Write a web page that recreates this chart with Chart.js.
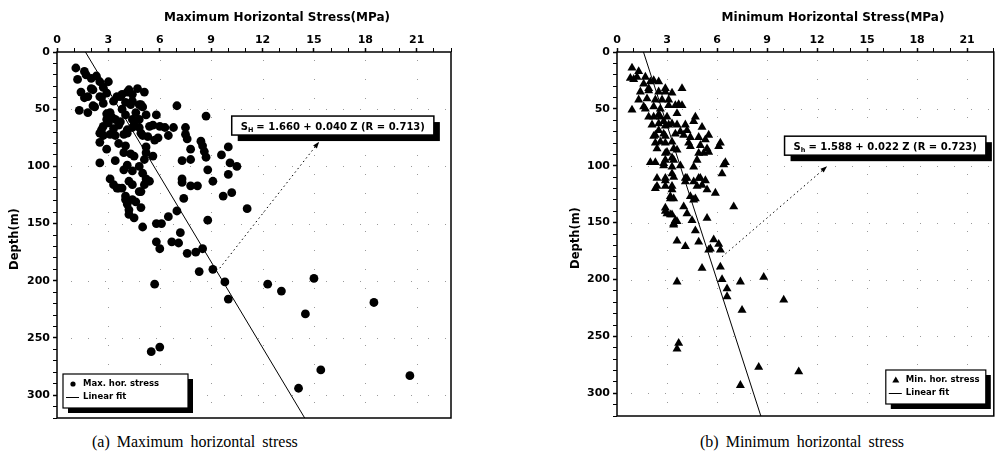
<!DOCTYPE html>
<html>
<head>
<meta charset="utf-8">
<script src="https://cdn.jsdelivr.net/npm/chart.js@4/dist/chart.umd.min.js"></script>
<style>
  body { margin: 0; background: #fff; width: 999px; height: 463px; overflow: hidden; position: relative; }
  canvas { position: absolute; top: 0; }
  #maxChart { left: 0; }
  #minChart { left: 560px; }
  .caption { position: absolute; top: 433px; font: 16px "Liberation Serif", "Times New Roman", serif; word-spacing: 3px; white-space: nowrap; }
</style>
</head>
<body>
<canvas id="maxChart" width="460" height="430"></canvas>
<canvas id="minChart" width="439" height="430"></canvas>
<div class="caption" style="left:92px">(a) Maximum horizontal stress</div>
<div class="caption" style="left:700px">(b) Minimum horizontal stress</div>

<script>
// (a) maximum horizontal stress (MPa) vs depth (m)
const maxStress = [1.1, 1.6, 1.7, 1.2, 2.0, 2.3, 2.5, 3.0, 2.1, 2.7, 1.4, 1.6, 1.8, 2.0, 2.5, 2.6, 2.9, 2.2, 2.1, 1.3,
  1.8, 2.7, 3.3, 3.5, 3.7, 3.8, 4.1, 4.2, 4.4, 4.7, 5.1, 4.0, 4.4, 4.3, 4.8, 4.9, 5.0, 3.1, 2.9, 3.4,
  2.9, 4.0, 4.4, 4.8, 5.2, 5.8, 2.7, 3.6, 4.1, 4.5, 5.4, 6.0, 2.5, 3.1, 3.9, 4.9, 5.3, 5.9, 2.7, 3.4,
  4.1, 4.4, 4.8, 3.0, 3.3, 3.7, 2.6, 3.2, 3.8, 4.6, 5.6, 6.3, 6.8, 6.5, 7.0, 7.5, 7.5, 7.6, 7.8, 7.8,
  7.3, 8.4, 8.5, 8.6, 8.7, 8.7, 8.8, 9.1, 9.6, 10.0, 10.1, 10.5, 10.0, 9.7, 10.2, 5.0, 5.7, 5.2, 5.2, 5.1,
  5.6, 2.5, 3.4, 4.1, 4.5, 3.9, 4.3, 2.9, 2.5, 3.6, 4.0, 3.1, 3.3, 3.6, 3.8, 4.2, 3.9, 4.4, 4.8, 5.0,
  5.2, 5.4, 7.3, 7.3, 7.8, 8.2, 4.0, 4.4, 4.9, 7.4, 3.5, 4.4, 4.8, 5.1, 4.0, 4.1, 4.6, 4.2, 4.2, 4.5,
  4.9, 5.0, 5.8, 6.1, 6.5, 7.0, 7.2, 11.1, 8.8, 5.8, 6.0, 6.7, 7.1, 7.6, 8.1, 8.5, 8.3, 9.1, 9.8, 10.0,
  5.7, 12.3, 13.1, 15.0, 14.5, 18.5, 5.5, 6.0, 15.4, 20.6, 14.1];
const maxDepth = [14, 17, 20, 24, 23, 21, 26, 26, 33, 31, 35, 40, 39, 32, 39, 40, 36, 48, 47, 51,
  53, 45, 43, 39, 39, 37, 35, 33, 37, 32, 35, 44, 43, 46, 46, 46, 48, 53, 54, 59,
  59, 55, 59, 59, 55, 55, 65, 64, 68, 64, 65, 65, 71, 72, 72, 71, 74, 75, 73, 73,
  71, 66, 66, 62, 67, 61, 68, 57, 50, 53, 64, 66, 66, 73, 47, 66, 72, 76, 85, 94,
  95, 78, 82, 87, 92, 56, 103, 113, 90, 83, 97, 100, 107, 126, 123, 73, 77, 83, 88, 94,
  91, 97, 95, 99, 91, 88, 89, 85, 79, 80, 82, 111, 116, 119, 119, 113, 103, 104, 100, 106,
  111, 113, 111, 114, 117, 117, 126, 129, 122, 128, 119, 116, 122, 116, 129, 133, 131, 138, 142, 145,
  136, 153, 150, 150, 144, 139, 158, 137, 147, 166, 172, 166, 167, 176, 175, 172, 192, 190, 201, 216,
  203, 203, 209, 198, 229, 219, 262, 258, 278, 283, 294];
const maxFitStress = [1.66, 14.46];
const maxFitDepth = [0, 320];

// (b) minimum horizontal stress (MPa) vs depth (m)
const minStress = [0.9, 1.3, 0.8, 1.2, 1.0, 1.7, 2.2, 1.6, 2.0, 2.5, 1.4, 1.9, 1.9, 2.5, 2.9, 3.3, 3.9, 2.9, 0.9, 1.3,
  1.8, 2.3, 2.7, 3.1, 1.7, 1.6, 2.2, 2.6, 3.1, 3.5, 3.9, 3.7, 1.9, 2.2, 2.5, 2.6, 3.0, 3.6, 2.8, 2.1,
  2.5, 2.9, 3.1, 3.3, 3.6, 4.1, 4.7, 4.6, 5.1, 2.5, 3.8, 4.2, 5.5, 5.3, 2.3, 2.8, 3.5, 4.0, 4.4, 4.9,
  2.2, 2.9, 2.6, 3.3, 4.3, 5.0, 4.4, 6.1, 6.2, 5.4, 4.9, 2.3, 2.9, 2.4, 2.9, 3.4, 5.2, 5.5, 3.0, 3.6,
  3.3, 2.9, 2.0, 2.3, 2.8, 2.8, 3.4, 3.3, 3.8, 4.6, 4.8, 6.4, 6.5, 6.3, 2.4, 2.9, 2.9, 3.4, 3.3, 4.1,
  4.2, 4.6, 5.0, 4.9, 5.3, 2.3, 2.4, 2.9, 3.3, 3.3, 4.8, 5.4, 5.1, 5.9, 3.2, 3.2, 4.4, 4.7, 4.1, 3.4,
  4.6, 7.0, 4.0, 2.9, 2.9, 4.2, 3.2, 3.0, 3.3, 4.5, 3.5, 3.4, 5.4, 3.6, 4.7, 3.4, 3.6, 4.1, 4.9, 5.6,
  5.8, 6.1, 6.2, 5.5, 5.1, 6.2, 3.6, 6.3, 7.4, 8.8, 6.6, 6.6, 10.0, 7.5, 3.7, 3.6, 8.5, 10.9, 7.4];
const minDepth = [14, 17, 23, 22, 24, 22, 25, 28, 26, 26, 35, 32, 34, 35, 35, 36, 32, 32, 51, 42,
  41, 42, 42, 42, 50, 48, 48, 50, 47, 47, 47, 46, 57, 57, 55, 57, 57, 54, 61, 64,
  63, 65, 64, 63, 64, 64, 57, 61, 66, 69, 70, 69, 73, 77, 73, 72, 72, 73, 75, 75,
  74, 74, 79, 79, 80, 82, 83, 83, 80, 85, 89, 80, 80, 85, 89, 85, 89, 88, 88, 86,
  93, 95, 97, 97, 98, 100, 95, 101, 100, 101, 95, 99, 97, 107, 111, 111, 113, 110, 107, 111,
  111, 114, 111, 111, 113, 120, 118, 118, 121, 118, 118, 121, 117, 124, 127, 129, 127, 129, 114, 129,
  130, 136, 136, 140, 137, 142, 143, 142, 143, 148, 148, 151, 146, 149, 157, 152, 166, 171, 167, 173,
  165, 169, 174, 174, 190, 189, 202, 200, 202, 198, 208, 215, 218, 227, 256, 261, 277, 281, 293];
const minFitStress = [1.588, 8.628];
const minFitDepth = [0, 320];

const xTicks = [0, 3, 6, 9, 12, 15, 18, 21];
const yTicks = [0, 50, 100, 150, 200, 250, 300];

const SANS = '"DejaVu Sans", Verdana, sans-serif';

function pairs(xs, ys) {
  return xs.map((x, i) => ({ x: x, y: ys[i] }));
}

// frame, sparse dotted grid, titles, equation box, arrow and legend
function decorPlugin(p) {
  return {
    id: 'decor',
    beforeDatasetsDraw(chart) {
      const { ctx, chartArea: a, scales: { x, y } } = chart;
      ctx.save();
      ctx.fillStyle = '#9a9a9a';
      xTicks.slice(1).forEach(v => {
        const px = Math.round(x.getPixelForValue(v));
        for (let py = a.top + 8; py < a.bottom; py += 19) ctx.fillRect(px, py, 1, 1);
      });
      yTicks.slice(1).forEach(v => {
        const py = Math.round(y.getPixelForValue(v));
        for (let px = a.left + 14; px < a.right; px += 17) ctx.fillRect(px, py, 1, 1);
      });
      ctx.restore();
    },
    afterDraw(chart) {
      const { ctx, chartArea: a, scales: { x, y } } = chart;
      ctx.save();
      ctx.strokeStyle = '#000';
      ctx.lineWidth = 1.5;
      ctx.strokeRect(a.left, a.top, a.right - a.left, a.bottom - a.top);

      // axis titles
      ctx.fillStyle = '#000';
      ctx.font = 'bold 12px ' + SANS;
      ctx.textAlign = 'center';
      ctx.textBaseline = 'middle';
      ctx.fillText(p.xTitle, p.xTitleX, 18);
      ctx.font = 'bold 11.5px ' + SANS;
      ctx.save();
      ctx.translate(p.yTitleX, (a.top + a.bottom) / 2 + 4);
      ctx.rotate(-Math.PI / 2);
      ctx.fillText('Depth(m)', 0, 0);
      ctx.restore();

      // dotted arrow
      const x0 = x.getPixelForValue(p.arrow[0]), y0 = y.getPixelForValue(p.arrow[1]);
      const x1 = x.getPixelForValue(p.arrow[2]), y1 = y.getPixelForValue(p.arrow[3]);
      ctx.lineWidth = 1;
      ctx.setLineDash([1.5, 3]);
      ctx.beginPath(); ctx.moveTo(x0, y0); ctx.lineTo(x1, y1); ctx.stroke();
      ctx.setLineDash([]);
      const ang = Math.atan2(y1 - y0, x1 - x0);
      ctx.beginPath();
      ctx.moveTo(x1, y1);
      ctx.lineTo(x1 - 7 * Math.cos(ang - 0.35), y1 - 7 * Math.sin(ang - 0.35));
      ctx.lineTo(x1 - 7 * Math.cos(ang + 0.35), y1 - 7 * Math.sin(ang + 0.35));
      ctx.closePath(); ctx.fill();

      // equation box, sized to its text
      const bx = x.getPixelForValue(p.box[0]), by = y.getPixelForValue(p.box[1]);
      const big = 'bold 10px ' + SANS, small = 'bold 6.5px ' + SANS;
      ctx.font = big;
      const wS = ctx.measureText('S').width, wEq = ctx.measureText(p.eq).width;
      ctx.font = small;
      const wSub = ctx.measureText(p.sub).width;
      const bw = 9 + wS + wSub + 3 + wEq + 9, bh = 19;
      ctx.fillStyle = '#000';
      ctx.fillRect(bx + 6, by + 6, bw, bh);
      ctx.fillStyle = '#fff';
      ctx.fillRect(bx, by, bw, bh);
      ctx.lineWidth = 1.5;
      ctx.strokeRect(bx, by, bw, bh);
      ctx.fillStyle = '#000';
      ctx.textAlign = 'left';
      ctx.textBaseline = 'alphabetic';
      let tx = bx + 9;
      ctx.font = big;
      ctx.fillText('S', tx, by + 13.5);
      tx += wS;
      ctx.font = small;
      ctx.fillText(p.sub, tx, by + 15.5);
      tx += wSub + 3;
      ctx.font = big;
      ctx.fillText(p.eq, tx, by + 13.5);

      // legend box
      const lw = p.legend[0], lh = 34;
      const lx = p.legend[1] === 'left' ? a.left + 6 : a.right - 8 - lw;
      const ly = a.bottom - p.legend[2];
      ctx.fillStyle = '#000';
      ctx.fillRect(lx + 5, ly + 5, lw, lh);
      ctx.fillStyle = '#fff';
      ctx.fillRect(lx, ly, lw, lh);
      ctx.lineWidth = 1.2;
      ctx.strokeRect(lx, ly, lw, lh);
      ctx.fillStyle = '#000';
      ctx.beginPath();
      if (p.marker === 'circle') {
        ctx.arc(lx + 10, ly + 10, 2.6, 0, Math.PI * 2);
      } else {
        ctx.moveTo(lx + 10, ly + 6.5); ctx.lineTo(lx + 13.5, ly + 12.5); ctx.lineTo(lx + 6.5, ly + 12.5); ctx.closePath();
      }
      ctx.fill();
      ctx.lineWidth = 1;
      ctx.beginPath(); ctx.moveTo(lx + 3, ly + 23.5); ctx.lineTo(lx + 16, ly + 23.5); ctx.stroke();
      ctx.font = 'bold 8.5px ' + SANS;
      ctx.textBaseline = 'middle';
      ctx.fillText(p.legendText, lx + 20, ly + 10);
      ctx.fillText('Linear fit', lx + 20, ly + 23);
      ctx.restore();
    }
  };
}

function makePanel(id, pts, fit, marker, xMax, pad, p) {
  const tickFont = { family: SANS, size: 11, weight: 'bold' };
  return new Chart(document.getElementById(id), {
    data: {
      datasets: [
        { type: 'scatter', data: pts, pointStyle: marker, pointRadius: marker === 'circle' ? 4.4 : 5.2,
          backgroundColor: '#000', borderColor: '#000', borderWidth: 0 },
        { type: 'line', data: fit, borderColor: '#000', borderWidth: 1, pointRadius: 0, fill: false, tension: 0 }
      ]
    },
    options: {
      responsive: false,
      animation: false,
      layout: { padding: { left: 0, top: 0, right: pad[0], bottom: pad[1] } },
      plugins: { legend: { display: false }, tooltip: { enabled: false } },
      scales: {
        x: {
          type: 'linear', position: 'top', min: 0, max: xMax,
          ticks: { stepSize: 1, autoSkip: false, maxRotation: 0, padding: 1, color: '#000', font: tickFont,
            callback: v => (v % 3 === 0 ? v : '') },
          grid: { drawOnChartArea: false, tickLength: 4, tickColor: '#000',
            tickWidth: c => (c.tick && c.tick.value % 3 === 0 ? 1.5 : 1) },
          border: { display: false },
          afterFit: s => { s.height = 52; }
        },
        y: {
          type: 'linear', reverse: true, min: 0, max: 320,
          ticks: { stepSize: 10, autoSkip: false, padding: 3, color: '#000', font: tickFont,
            callback: v => (v % 50 === 0 ? v : '') },
          grid: { drawOnChartArea: false, tickLength: 4, tickColor: '#000',
            tickWidth: c => (c.tick && c.tick.value % 50 === 0 ? 1.5 : 1) },
          border: { display: false },
          afterFit: s => { s.width = 57; }
        }
      }
    },
    plugins: [decorPlugin(p)]
  });
}

makePanel('maxChart', pairs(maxStress, maxDepth), pairs(maxFitStress, maxFitDepth), 'circle', 23, [9, 12], {
  xTitle: 'Maximum Horizontal Stress(MPa)', xTitleX: 277, yTitleX: 15,
  arrow: [9.5, 189, 15.3, 78.5],
  box: [10.2, 56], sub: 'H', eq: '= 1.660 + 0.040 Z (R = 0.713)',
  legend: [125, 'left', 44], marker: 'circle', legendText: 'Max. hor. stress'
});

makePanel('minChart', pairs(minStress, minDepth), pairs(minFitStress, minFitDepth), 'triangle', 22.6, [0, 14], {
  xTitle: 'Minimum Horizontal Stress(MPa)', xTitleX: 273, yTitleX: 16,
  arrow: [6.3, 180, 12.6, 100.5],
  box: [10.05, 74], sub: 'h', eq: '= 1.588 + 0.022 Z (R = 0.723)',
  legend: [100, 'right', 46], marker: 'triangle', legendText: 'Min. hor. stress'
});
</script>
</body>
</html>
